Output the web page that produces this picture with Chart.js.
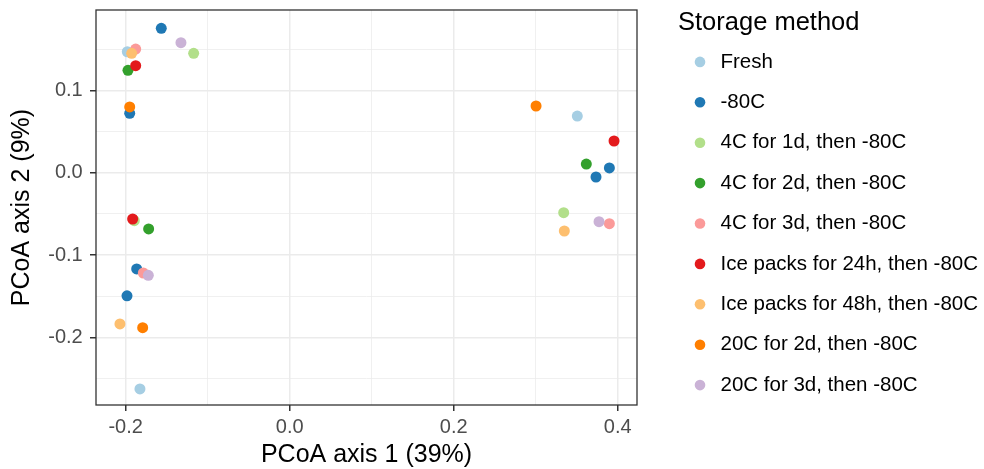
<!DOCTYPE html>
<html>
<head>
<meta charset="utf-8">
<script src="https://cdn.jsdelivr.net/npm/chart.js@4.4.1/dist/chart.umd.min.js"></script>
<style>
  body { margin: 0; background: #fff; }
  canvas { display: block; }
</style>
</head>
<body>
<canvas id="pcoaChart" width="984" height="469"></canvas>
<script>
const groups = ['Fresh', '-80C', '4C for 1d, then -80C', '4C for 2d, then -80C', '4C for 3d, then -80C',
  'Ice packs for 24h, then -80C', 'Ice packs for 48h, then -80C', '20C for 2d, then -80C', '20C for 3d, then -80C'];
const groupColors = ['#A6CEE3', '#1F78B4', '#B2DF8A', '#33A02C', '#FB9A99', '#E31A1C', '#FDBF6F', '#FF7F00', '#CAB2D6'];

// PCoA coordinates per storage method (axis 1 / axis 2)
const freshX = [-0.198, 0.3507, -0.1826];
const freshY = [0.1474, 0.0692, -0.2629];
const frozenX = [-0.1566, -0.1951, 0.3898, 0.3735, -0.1866, -0.1984];
const frozenY = [0.1759, 0.0725, 0.006, -0.005, -0.1169, -0.1496];
const fridge1dX = [-0.1171, 0.3341, -0.1895];
const fridge1dY = [0.1455, -0.0484, -0.0582];
const fridge2dX = [-0.1972, 0.3617, -0.172];
const fridge2dY = [0.1248, 0.0108, -0.0682];
const fridge3dX = [-0.1878, 0.3898, -0.1785];
const fridge3dY = [0.1507, -0.0618, -0.1218];
const ice24X = [-0.1878, 0.3955, -0.1915];
const ice24Y = [0.1304, 0.0388, -0.0561];
const ice48X = [-0.1927, 0.3349, -0.207];
const ice48Y = [0.1455, -0.0707, -0.1838];
const room2dX = [-0.1951, 0.3004, -0.1793];
const room2dY = [0.0802, 0.0814, -0.1883];
const room3dX = [-0.1326, 0.3772, -0.1724];
const room3dY = [0.1584, -0.0594, -0.1246];

// axis ticks
const xMajor = [-0.2, 0, 0.2, 0.4];
const xLabels = ['-0.2', '0.0', '0.2', '0.4'];
const xMinor = [-0.1, 0.1, 0.3];
const yMajor = [-0.2, -0.1, 0, 0.1];
const yLabels = ['-0.2', '-0.1', '0.0', '0.1'];
const yMinor = [-0.25, -0.15, -0.05, 0.05, 0.15];

const xs = [freshX, frozenX, fridge1dX, fridge2dX, fridge3dX, ice24X, ice48X, room2dX, room3dX];
const ys = [freshY, frozenY, fridge1dY, fridge2dY, fridge3dY, ice24Y, ice48Y, room2dY, room3dY];

Chart.defaults.font.family = '"Liberation Sans", Arial, sans-serif';

function findTick(list, v) {
    return list.findIndex(t => Math.abs(t - v) < 1e-9);
}

function gridFor(major) {
    return {
        color: '#EBEBEB',
        lineWidth: ctx => (ctx.tick && findTick(major, ctx.tick.value) >= 0) ? 1.5 : 0.75,
        tickLength: 6,
        tickWidth: 1.5,
        tickColor: ctx => (ctx.tick && findTick(major, ctx.tick.value) >= 0) ? '#333333' : 'rgba(0,0,0,0)'
    };
}

// ggplot style frame around the panel
const panelBorder = {
    id: 'panelBorder',
    afterDatasetsDraw(chart) {
        const { ctx, chartArea: a } = chart;
        ctx.save();
        ctx.strokeStyle = '#333333';
        ctx.lineWidth = 1.3;
        ctx.strokeRect(a.left, a.top, a.right - a.left, a.bottom - a.top);
        ctx.restore();
    }
};

const datasets = groups.map((name, i) => ({
    label: name,
    data: xs[i].map((x, j) => ({ x: x, y: ys[i][j] })),
    backgroundColor: groupColors[i],
    borderWidth: 0,
    pointRadius: 5.5,
    pointStyle: 'circle',
    order: groups.length - i, // later groups drawn on top
    xAxisID: 'x',
    yAxisID: 'y'
}));

new Chart(document.getElementById('pcoaChart'), {
    type: 'scatter',
    data: { datasets },
    plugins: [panelBorder],
    options: {
        responsive: false,
        devicePixelRatio: 1,
        animation: false,
        events: [],
        layout: { padding: { top: 10, right: 0, bottom: 0, left: 0 } },
        scales: {
            x: {
                type: 'linear',
                position: 'bottom',
                min: -0.2362,
                max: 0.4235,
                afterBuildTicks: axis => {
                    axis.ticks = xMajor.concat(xMinor).sort((a, b) => a - b).map(v => ({ value: v }));
                },
                afterFit: s => { s.height = 64; s.paddingLeft = 0; s.paddingRight = 0; },
                ticks: {
                    autoSkip: false,
                    maxRotation: 0,
                    padding: 6,
                    color: '#4D4D4D',
                    font: { size: 20, lineHeight: '20px' },
                    callback: v => { const k = findTick(xMajor, v); return k >= 0 ? xLabels[k] : ''; }
                },
                grid: gridFor(xMajor),
                border: { display: false },
                title: {
                    display: true,
                    text: 'PCoA axis 1 (39%)',
                    color: '#000',
                    font: { size: 25, lineHeight: '25px' },
                    padding: { top: 0, bottom: 1 }
                }
            },
            y: {
                type: 'linear',
                position: 'left',
                min: -0.2824,
                max: 0.1982,
                afterBuildTicks: axis => {
                    axis.ticks = yMajor.concat(yMinor).sort((a, b) => a - b).map(v => ({ value: v }));
                },
                afterFit: s => { s.width = 96; s.paddingTop = 0; s.paddingBottom = 0; },
                ticks: {
                    autoSkip: false,
                    padding: 7.3,
                    color: '#4D4D4D',
                    font: { size: 20, lineHeight: '20px' },
                    callback: v => { const k = findTick(yMajor, v); return k >= 0 ? yLabels[k] : ''; }
                },
                grid: gridFor(yMajor),
                border: { display: false },
                title: {
                    display: true,
                    text: 'PCoA axis 2 (9%)',
                    color: '#000',
                    font: { size: 25, lineHeight: '25px' },
                    padding: { top: 9.5, bottom: 0 }
                }
            },
            // empty axis, only keeps the gap between panel and legend
            gap: {
                type: 'linear',
                position: 'right',
                display: true,
                grid: { display: false },
                border: { display: false },
                ticks: { display: false },
                afterFit: s => { s.width = 41; s.paddingTop = 0; s.paddingBottom = 0; }
            }
        },
        plugins: {
            tooltip: { enabled: false },
            legend: {
                position: 'right',
                align: 'start',
                maxWidth: 306,
                labels: {
                    usePointStyle: true,
                    pointStyle: 'circle',
                    boxWidth: 20.5,
                    boxHeight: 7.5,
                    padding: 11.75,
                    color: '#000',
                    font: { size: 20.5, lineHeight: '28.65px' },
                    sort: (a, b) => a.datasetIndex - b.datasetIndex,
                    // one-line arrays so the row height follows the font line height
                    generateLabels: chart => Chart.defaults.plugins.legend.labels.generateLabels(chart)
                        .map(item => Object.assign(item, { text: [item.text] }))
                },
                title: {
                    display: true,
                    text: 'Storage method',
                    position: 'start',
                    color: '#000',
                    font: { size: 25.5, lineHeight: '29.9px' },
                    padding: 0
                }
            }
        }
    }
});
</script>
</body>
</html>
